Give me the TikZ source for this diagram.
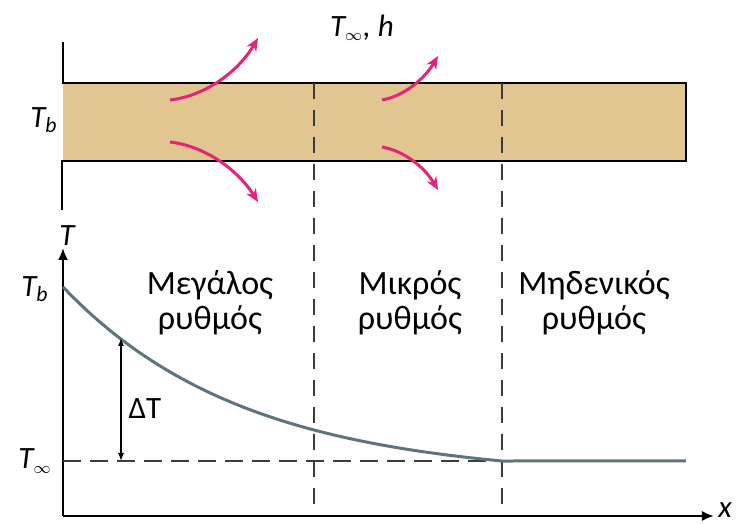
\documentclass[tikz,border=0pt]{standalone}
\usepackage{fontspec}
\setmainfont{Carlito}
\usetikzlibrary{arrows.meta,positioning}
\definecolor{barfill}  {RGB}{226,198,146}
\definecolor{heatpink} {RGB}{230, 35,120}
\definecolor{curvegray}{RGB}{ 95,115,125}
\definecolor{dashgray} {RGB}{ 60, 60, 60}

\begin{document}
\begin{tikzpicture}[
  x=0.5pt, y=-0.5pt,
  every node/.style={font=\fontsize{17}{17.5}\selectfont, align=center, inner sep=0pt},
  sym/.style={font=\fontsize{15.5}{16}\selectfont\itshape},
  wall/.style={draw=black, line width=1pt},
  divider/.style={dashgray, line width=0.8pt, dash pattern=on 8pt off 5.5pt},
  level/.style={dashgray, line width=0.8pt, dash pattern=on 9pt off 4.5pt},
  heat/.style={-{Stealth[length=6.5pt,width=5.5pt]}, heatpink, line width=1.5pt},
  axis/.style={-{Latex[length=6pt,width=5pt]}, line width=1pt},
  curve/.style={curvegray, line width=1.5pt},
  delta/.style={{Latex[length=4pt,width=3pt]}-{Latex[length=4pt,width=3pt]}, line width=0.6pt}
]
  \useasboundingbox (0,0) rectangle (736,524);

  % Fin
  \fill[barfill] (63,83) rectangle (686,161);
  \draw[wall] (63,42) -- (63,83) -- (686,83) -- (686,161) -- (62,161) -- (62,210);

  % Coordinates
  \coordinate (orig) at (63,516);
  \coordinate (ytip) at (63,248);
  \coordinate (xtip) at (714,516);
  \coordinate (div1) at (314,83);
  \coordinate (div1b) at (314,516);
  \coordinate (div2) at (502,83);
  \coordinate (div2b) at (502,516);
  \coordinate (linf) at (63,461);
  \coordinate (rinf) at (502,461);
  \coordinate (dtop) at (121,338);
  \coordinate (dbot) at (121,461);

  % Region borders
  \draw[divider] (div1) -- (div1b);
  \draw[divider] (div2) -- (div2b);

  % Heat flow
  \coordinate (h1s) at (170,100);
  \coordinate (h1e) at (258,38);
  \coordinate (h2s) at (170,142);
  \coordinate (h2e) at (258,202);
  \coordinate (h3s) at (382,100);
  \coordinate (h3e) at (438,56);
  \coordinate (h4s) at (382,147);
  \coordinate (h4e) at (438,190);
  \draw[heat] (h1s) .. controls (205,96) and (238,72) .. (h1e);
  \draw[heat] (h2s) .. controls (205,146) and (238,170) .. (h2e);
  \draw[heat] (h3s) .. controls (405,96) and (425,78) .. (h3e);
  \draw[heat] (h4s) .. controls (405,151) and (425,168) .. (h4e);

  % Labels
  \node (tinfh) [sym] at (362,28) {T\textsubscript{$\scriptstyle\infty$}, h};
  \node (tbbar) [sym] at (44,120) {T\textsubscript{b}};
  \node (taxis) [sym] at (67,236) {T};
  \node (tbplot) [sym] at (35,289) {T\textsubscript{b}};
  \node (tinfplot) [sym] at (35,461) {T\textsubscript{$\scriptstyle\infty$}};
  \node (xaxis) [sym, anchor=west] at (718,510) {x};
  \node (big) at (210,303) {Μεγάλος\\ρυθμός};
  \node (small) at (410,303) {Μικρός\\ρυθμός};
  \node (zero) at (594,303) {Μηδενικός\\ρυθμός};
  \node (dT) [font=\fontsize{15.5}{16}\selectfont] at (145,409) {ΔT};

  % Axes
  \draw[axis] (orig) -- (ytip);
  \draw[axis] (orig) -- (xtip);
  \draw[level] (linf) -- (rinf);

  % Temperature profile
  \draw[curve] plot[domain=0:439, samples=60]
    ({63+\x}, {461-174*(exp(-0.0055*\x)-0.0897)/0.9103}) -- (515,461) -- (686,461);
  \draw[delta] (dtop) -- (dbot);
\end{tikzpicture}
\end{document}
